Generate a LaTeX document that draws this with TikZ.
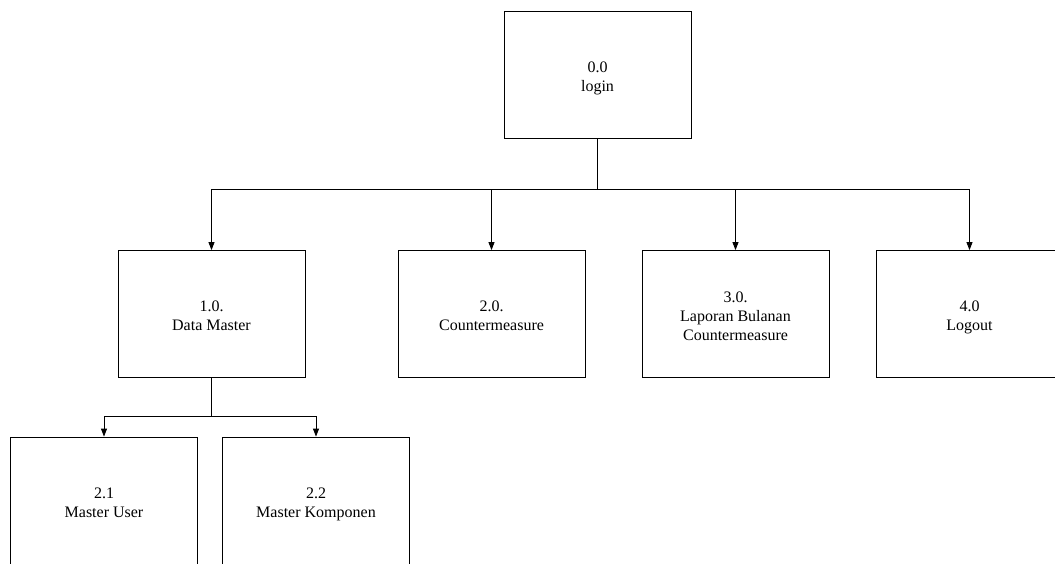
\documentclass[tikz,border=0pt]{standalone}
\usepackage{fontspec}
\setmainfont{Liberation Serif}
\usetikzlibrary{arrows.meta}
% invisible rule that lowers the first text line of a box
\newcommand\toppad{\rule{0pt}{20pt}}
\begin{document}
\begin{tikzpicture}[x=1pt,y=-1pt,
  proc/.style={draw, line width=0.8pt, inner sep=0pt, minimum width=187pt,
    minimum height=127pt, align=center, font=\fontsize{16}{19}\selectfont,
    execute at end node=\strut},
  link/.style={line width=0.8pt},
  arr/.style={link, -{Triangle[width=6pt,length=8pt]}}]
\useasboundingbox (0,0) rectangle (1055,563);
\clip (0,0) rectangle (1055,563);
% process boxes
\node[proc] (login) at (597.5,75)  {\toppad 0.0\\login};
\node[proc] (dm)    at (211.5,314) {\toppad 1.0.\\Data Master};
\node[proc] (cm)    at (491.5,314) {\toppad 2.0.\\Countermeasure};
\node[proc] (lb)    at (735.5,314) {\toppad 3.0.\\Laporan Bulanan\\Countermeasure};
\node[proc] (lo)    at (969.5,314) {\toppad 4.0\\Logout};
\node[proc] (mu)    at (104,500.5) {\toppad 2.1\\Master User};
\node[proc] (mk)    at (316,500.5) {\toppad 2.2\\Master Komponen};
% branch points
\coordinate (bus1) at (597.5,189);
\coordinate (bus2) at (211.5,416);
% first level
\draw[link] (login.south) -- (bus1);
\draw[arr] (bus1) -| (dm.north);
\draw[arr] (bus1) -| (cm.north);
\draw[arr] (bus1) -| (lb.north);
\draw[arr] (bus1) -| (lo.north);
% second level
\draw[link] (dm.south) -- (bus2);
\draw[arr] (bus2) -| (mu.north);
\draw[arr] (bus2) -| (mk.north);
\end{tikzpicture}
\end{document}
